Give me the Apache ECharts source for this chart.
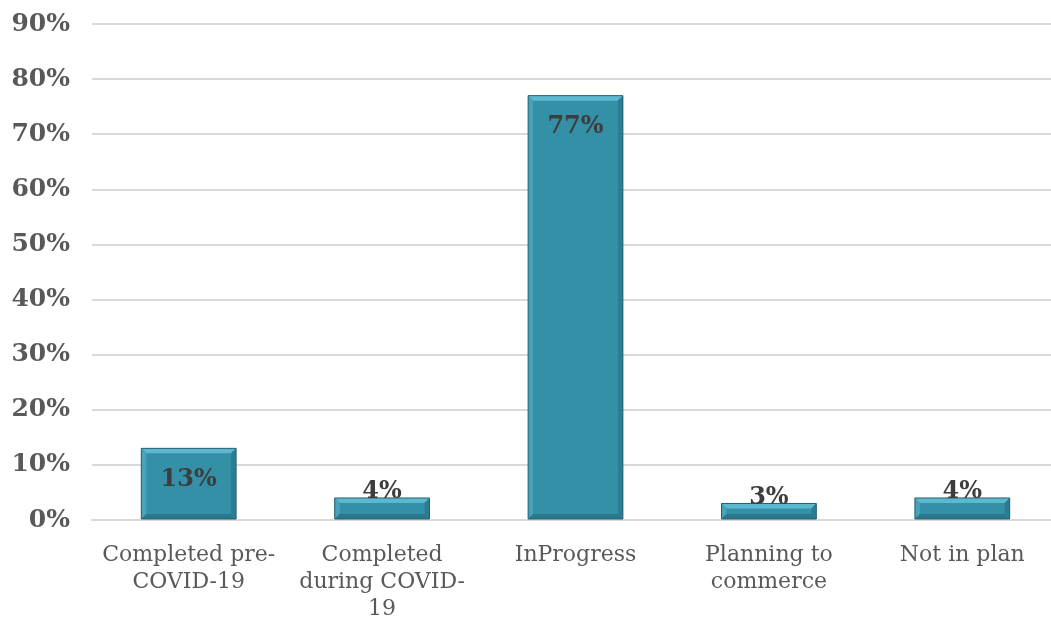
<!DOCTYPE html>
<html>
<head>
<meta charset="utf-8">
<script src="https://cdn.jsdelivr.net/npm/echarts@6/dist/echarts.min.js"></script>
<style>
  html, body { margin: 0; padding: 0; background: #ffffff; overflow: hidden; }
  #chart { width: 1051px; height: 628px; }
</style>
</head>
<body>
<div id="chart"></div>
<script>
// Survey status categories and shares (%)
const categories = [
  'Completed pre-\nCOVID-19',
  'Completed\nduring COVID-\n19',
  'InProgress',
  'Planning to\ncommerce',
  'Not in plan'
];
const shares = [13, 4, 77, 3, 4];
const yTicks = [0, 10, 20, 30, 40, 50, 60, 70, 80, 90];

const FONT = '"DejaVu Serif", "Liberation Serif", serif';
const BAR_FRACTION = 0.49;
const BEVEL = 5;

const chart = echarts.init(document.getElementById('chart'));

// Beveled bar: flat face plus four edge strips, value label inside or above
function renderBevelBar(params, api) {
  const idx = api.value(0);
  const val = api.value(1);
  const top = api.coord([idx, val]);
  const base = api.coord([idx, 0]);
  const bandW = api.size([1, 0])[0];
  const w = bandW * BAR_FRACTION;
  const x0 = top[0] - w / 2, x1 = top[0] + w / 2;
  const y0 = top[1], y1 = base[1] - 1;
  const h = y1 - y0;
  const b = Math.min(BEVEL, h / 2);

  const children = [
    { type: 'rect', shape: { x: x0, y: y0, width: w, height: h },
      style: { fill: '#3490a7' } },
    { type: 'polygon', shape: { points: [[x0, y0], [x1, y0], [x1 - b, y0 + b], [x0 + b, y0 + b]] },
      style: { fill: '#5cb8ce' } },
    { type: 'polygon', shape: { points: [[x0, y0], [x0 + b, y0 + b], [x0 + b, y1 - b], [x0, y1]] },
      style: { fill: '#46a3ba' } },
    { type: 'polygon', shape: { points: [[x1, y0], [x1, y1], [x1 - b, y1 - b], [x1 - b, y0 + b]] },
      style: { fill: '#2b7d92' } },
    { type: 'polygon', shape: { points: [[x0, y1], [x0 + b, y1 - b], [x1 - b, y1 - b], [x1, y1]] },
      style: { fill: '#2a788c' } },
    { type: 'rect', shape: { x: x0, y: y0, width: w, height: h },
      style: { fill: 'none', stroke: '#285f6f', lineWidth: 1 } }
  ];

  const inside = h > 40;
  children.push({
    type: 'text',
    x: top[0],
    y: inside ? y0 + 31 : y0 - 6,
    style: {
      text: val + '%',
      font: 'bold 24px ' + FONT,
      fill: '#3d3d3d',
      align: 'center',
      verticalAlign: 'middle'
    },
    z2: 10
  });
  return { type: 'group', children: children };
}

chart.setOption({
  animation: false,
  backgroundColor: '#ffffff',
  grid: {
    left: 92, top: 24, width: 967, bottom: 108,
    containLabel: false,
    outerBoundsMode: 'none'
  },
  xAxis: {
    type: 'category',
    data: categories,
    axisLine: { show: true, lineStyle: { color: '#d9d9d9', width: 2 } },
    axisTick: { show: false },
    axisLabel: {
      interval: 0,
      margin: 22,
      color: '#595959',
      fontFamily: FONT,
      fontSize: 22,
      lineHeight: 27,
      align: 'center'
    }
  },
  yAxis: {
    type: 'value',
    min: yTicks[0],
    max: yTicks[yTicks.length - 1],
    interval: 10,
    axisLine: { show: false },
    axisTick: { show: false },
    splitLine: { lineStyle: { color: '#d9d9d9', width: 2 } },
    axisLabel: {
      margin: 22,
      color: '#595959',
      fontFamily: FONT,
      fontWeight: 'bold',
      fontSize: 25,
      formatter: v => v + '%'
    }
  },
  series: [{
    type: 'custom',
    renderItem: renderBevelBar,
    encode: { x: 0, y: 1 },
    data: shares.map((v, i) => [i, v])
  }]
});
</script>
</body>
</html>
